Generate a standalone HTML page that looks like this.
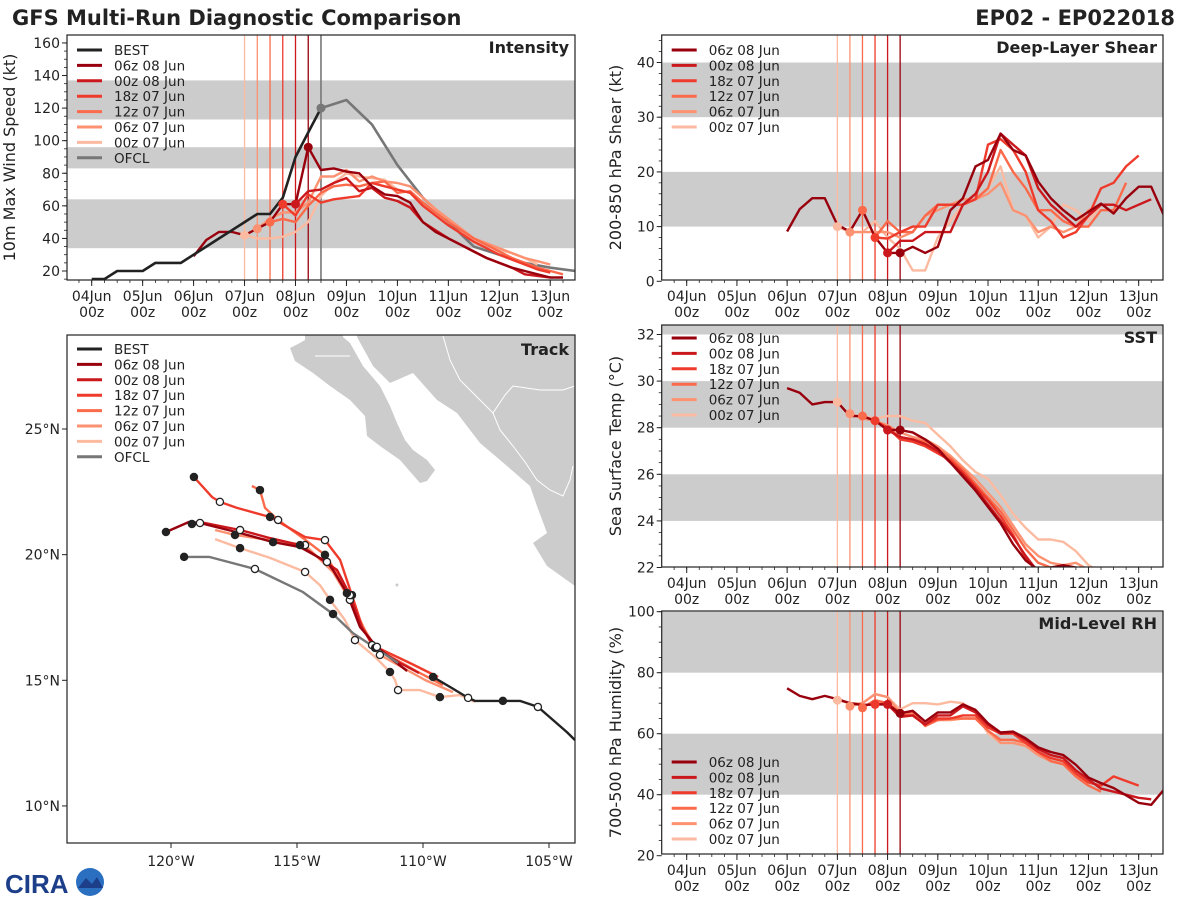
<!DOCTYPE html>
<html><head><meta charset="utf-8">
<style>
html,body{margin:0;padding:0;background:#fff;}
svg{display:block;font-family:"DejaVu Sans","Liberation Sans",sans-serif;}
</style></head>
<body>
<svg id="fig" width="1200" height="900" viewBox="0 0 1200 900" xmlns="http://www.w3.org/2000/svg">
<rect width="1200" height="900" fill="#fff"/>
<text x="12" y="25" font-size="21" font-weight="bold" fill="#222">GFS Multi-Run Diagnostic Comparison</text>
<text x="1175" y="25" font-size="21" font-weight="bold" fill="#222" text-anchor="end">EP02 - EP022018</text>
<g>
<text x="5" y="893" font-size="26" font-weight="bold" fill="#1d3f8a" font-family="Liberation Sans, sans-serif">CIRA</text>
<circle cx="90" cy="882" r="14" fill="#2a6fc0"/>
<path d="M78,888 L86,878 L92,884 L97,877 L103,888 Z" fill="#1d3f8a"/>
</g>
<g id="root"></g>
</svg>
<script>
// ---------- DATA ----------
const runLabels = ["06z 08 Jun","00z 08 Jun","18z 07 Jun","12z 07 Jun","06z 07 Jun","00z 07 Jun"];
const runInit = [8.25, 8.0, 7.75, 7.5, 7.25, 7.0];
const runStart = [6.0, 8.0, 7.75, 7.5, 7.25, 7.0];
const bestStart = 4.0;
const bestVmax = [15,15,20,20,20,25,25,25,30,35,40,45,50,55,55,65,90,105,120];
const ofclStart = 8.5;
const ofclStep = 0.5;
const ofclVmax = [120,125,110,85,65,50,35,30,25,22,20];
const runVmax = [
 [29,39,44,44,42,46,50,61,61,96,82,83,81,80,72,67,66,62,50,44,40,36,32,28,25,22,20,18,16,16],
 [61,69,70,74,77,69,71,65,63,59,50,45,40,36,32,28,25,22,18,17,16],
 [61,54,67,62,64,65,66,74,72,70,68,60,54,48,43,38,34,30,27,24,21,19],
 [50,52,50,60,68,72,73,72,74,75,68,69,62,56,50,45,40,36,32,28,25,22,20,18],
 [46,52,56,56,62,78,78,82,75,78,75,74,72,65,58,52,46,40,37,34,31,28,26,24],
 [42,40,40,41,44,50,66,74,80,78,77,76,70,68,62,57,52,45,39,36,33,31,28,24]
];
const runShear = [
 [9.1,13.2,15.2,15.2,10.3,9.1,13,8.1,5.2,5.2,6.3,5.2,6.3,13,15.2,21,22.2,27,24,23,18.2,15.2,13,11.2,12.7,14.2,12.4,15.2,17.3,17.3,12.1],
 [5.2,7.4,7.4,9,9,9,14,16,20,27,25,23,17,14,12,10,12,14,14,13,14,15],
 [8,7.8,9,10,10,14,14,14,15,25,26,24,20,13,11,8,9,12,17,18,21,23],
 [13,8,11,9,9,12,14,14,14,15,17,24,20,17,13,13,11,10,10,13,13,18],
 [9,9,9,9,8,9,12,13,14,15,15,16,18,13,12,9,10,9,10,13,14,14],
 [10,9,9,11,8,6,2,2,8,11,14,15,17,21,13,12,8,10,14,13,11,14]
];
const runSST = [
 [29.7,29.5,29.0,29.1,29.1,28.5,28.5,28.3,27.9,27.9,27.8,27.5,27.1,26.5,25.9,25.3,24.6,23.9,23.0,22.3,21.9,22.0,22.1,22.0,21.8],
 [27.9,27.6,27.5,27.3,27.0,26.5,26.0,25.4,24.7,24.0,23.3,22.5,21.8,21.5],
 [28.3,28.0,27.5,27.4,27.2,26.9,26.6,26.1,25.5,24.9,24.2,23.4,22.4,21.8],
 [28.5,28.3,28.0,27.6,27.5,27.4,27.1,26.7,26.2,25.6,25.0,24.4,23.6,22.8,22.2,22.0,22.0,21.8],
 [28.6,28.4,28.3,28.1,27.8,27.6,27.5,27.2,26.8,26.3,25.8,25.2,24.6,23.8,23.0,22.5,22.2,22.1,22.2,21.9],
 [29.1,28.5,28.5,28.4,28.5,28.5,28.3,28.2,27.7,27.2,26.6,26.1,25.8,25.1,24.3,23.7,23.2,23.2,23.1,22.7,22.1,21.8]
];
const runRH = [
 [74.9,72.4,71.3,72.4,71.3,70,69.4,69.6,69.6,66.7,67.5,64,67,67,69.6,67.8,63.4,60.4,60.7,58.5,55.5,54,53,49.8,45.6,43.8,42.2,39.8,37.3,36.7,41.6],
 [69.6,65.5,66,63,66,66,69,67,63,60,60.5,58,55,53,52,48,45,42,41,40,39,38.5],
 [69.6,70,66,66,63,65,65,66,66,62,60,60,57,54,52,51,47,44,43,46,44.5,43],
 [68.5,71,70,67,67,62.5,64.5,65,65,65,61,58,58,57,54,51,50,46,43,41],
 [69,70,73,72,67,66,63,64.5,64.5,65,65,61,57,57,56,53,51,50,46,43],
 [71,70,70,73,72,68,70,70,69.6,70.5,70,67,60,57,57,56.5,54,51,50,46,43]
];
// track data (lon, lat)
const bestLon = [-103.97,-104.29,-105.44,-106.15,-106.83,-107.94,-108.21,-108.85,-109.60];
const bestLat = [12.62,12.94,13.94,14.18,14.18,14.18,14.30,14.69,15.13];
const ofclLon = [-110.99,-112.78,-113.57,-114.76,-116.67,-118.49,-119.48];
const ofclLat = [15.69,16.88,17.64,18.51,19.43,19.91,19.91];
const runLon = [
 [-110.63,-111.19,-111.83,-112.50,-113.02,-113.57,-113.81,-114.88,-115.95,-117.26,-118.85,-119.29,-120.20],
 [-110.16,-110.91,-111.90,-112.42,-112.90,-113.41,-114.88,-116.07,-117.26,-118.65,-119.17],
 [-109.40,-110.52,-112.02,-112.42,-112.82,-113.29,-113.89,-114.68,-116.07,-117.38,-118.06,-118.37,-119.09],
 [-109.21,-110.20,-111.90,-112.38,-112.90,-113.37,-113.89,-114.76,-115.75,-116.27,-116.47,-116.79],
 [-108.81,-109.92,-111.71,-112.30,-112.90,-113.57,-114.68,-116.07,-117.46,-118.25],
 [-107.94,-108.53,-109.33,-110.12,-110.99,-111.11,-111.31,-111.90,-112.70,-113.10,-113.69,-114.09,-114.68,-116.07,-117.26,-118.25]
];
const runLat = [
 [15.37,15.81,16.33,17.12,18.47,19.39,19.71,20.30,20.50,20.86,21.26,21.30,20.90],
 [15.29,15.69,16.29,17.08,18.39,19.39,20.38,20.66,20.98,21.26,21.22],
 [15.13,15.69,16.40,17.16,18.39,19.79,20.58,20.70,21.50,21.86,22.10,22.29,23.09],
 [14.81,15.33,16.29,17.08,18.20,19.19,19.99,20.66,21.38,21.86,22.57,22.73],
 [14.53,15.01,16.01,17.00,18.20,19.31,20.38,20.58,20.78,20.98],
 [14.14,14.41,14.33,14.61,14.61,15.01,15.33,15.93,16.60,17.40,18.20,18.79,19.31,19.87,20.26,20.62]
];
const dayTicks = ["04Jun","05Jun","06Jun","07Jun","08Jun","09Jun","10Jun","11Jun","12Jun","13Jun"];
const lonTicks = [-120,-115,-110,-105];
const latTicks = [25,20,15,10];

// ---------- STYLE / GEOMETRY ----------
const colors = ["#99000d","#cb181d","#ef3b2c","#fb6a4a","#fc9272","#fcbba1"];
const NS = "http://www.w3.org/2000/svg";
const root = document.getElementById("root");
function mk(tag, attrs, parent){ const e=document.createElementNS(NS,tag); for(const k in attrs) e.setAttribute(k,attrs[k]); (parent||root).appendChild(e); return e; }
function txt(x,y,s,size,anchor,parent,extra){ const t=mk("text",Object.assign({x:x,y:y,"font-size":size,"text-anchor":anchor||"start",fill:"#222"},extra||{}),parent); t.textContent=s; return t; }

function makePanel(p){
  const g = mk("g",{});
  
  
  const cid = "clip-"+p.name;
  const cp = mk("clipPath",{id:cid},g); mk("rect",{x:p.x0,y:p.y0,width:p.x1-p.x0,height:p.y1-p.y0},cp);
  const X = d => p.xa + (d-4)*p.xs;
  const Y = v => p.ya + (p.va - v)*p.ys;
  const inner = mk("g",{"clip-path":"url(#"+cid+")"},g);
  p.bands.forEach(b=>{
    const r = mk("rect",{x:p.x0,y:Y(b[1]),width:p.x1-p.x0,height:Y(b[0])-Y(b[1]),fill:"#cccccc"},inner);
    
    
  });
  for(let i=5;i>=0;i--){
    const l = mk("line",{x1:X(runInit[i]),x2:X(runInit[i]),y1:p.y0,y2:p.y1,stroke:colors[i],"stroke-width":1.3},inner);
    
    
  }
  if(p.ofcl){
    const l = mk("line",{x1:X(ofclStart),x2:X(ofclStart),y1:p.y0,y2:p.y1,stroke:"#777","stroke-width":1.6},inner);
    
    
  }
  const series = (vals,start,step,color,w,name)=>{
    const pts = vals.map((v,k)=>X(start+k*step).toFixed(1)+","+Y(v).toFixed(1)).join(" ");
    const pl = mk("polyline",{points:pts,fill:"none",stroke:color,"stroke-width":w,"stroke-linejoin":"round"},inner);
    
    
  };
  if(p.best){ series(ofclVmax,ofclStart,ofclStep,"#777",2.6,"ofcl-line"); }
  for(let i=5;i>=0;i--) series(p.data[i],runStart[i],0.25,colors[i],2.4,"run-line-"+i);
  if(p.best){ series(bestVmax,bestStart,0.25,"#222",2.6,"best-line"); }
  for(let i=5;i>=0;i--){
    const k = Math.round((runInit[i]-runStart[i])/0.25);
    const c = mk("circle",{cx:X(runInit[i]),cy:Y(p.data[i][k]),r:4.5,fill:colors[i]},inner);
    
    
  }
  if(p.best){
    const c = mk("circle",{cx:X(ofclStart),cy:Y(ofclVmax[0]),r:4.5,fill:"#777"},inner);
    
    
  }
  mk("rect",{x:p.x0,y:p.y0,width:p.x1-p.x0,height:p.y1-p.y0,fill:"none",stroke:"#222","stroke-width":1.2},g);
  p.yticks.forEach(v=>{
    mk("line",{x1:p.x0-5,x2:p.x0,y1:Y(v),y2:Y(v),stroke:"#222","stroke-width":1},g);
    const t = txt(p.x0-7,Y(v)+5,String(v),14,"end",g);
    
    
  });
  for(let v=p.vmin; v<=p.vmax+1e-6; v+=p.minor){ const yy=Y(v); if(yy>=p.y0&&yy<=p.y1) mk("line",{x1:p.x0-3,x2:p.x0,y1:yy,y2:yy,stroke:"#222","stroke-width":0.8},g); }
  for(let d=3.5; d<=13.6; d+=0.25){ const xx=X(d); if(xx>=p.x0&&xx<=p.x1) mk("line",{x1:xx,x2:xx,y1:p.y1,y2:p.y1+3,stroke:"#222","stroke-width":0.8},g); }
  dayTicks.forEach((s,k)=>{
    const xx = X(4+k);
    mk("line",{x1:xx,x2:xx,y1:p.y1,y2:p.y1+6,stroke:"#222","stroke-width":1},g);
    const t1 = txt(xx,p.y1+21,s,14,"middle",g);
    
    
    const t2 = txt(xx,p.y1+37,"00z",14,"middle",g);
    
    
  });
  const yt = txt(0,0,p.ytitle,16,"middle",g,{transform:"translate("+p.ytx+","+((p.y0+p.y1)/2)+") rotate(-90)"});
  
  
  const pt = txt(p.x1-6,p.y0+18,p.title,16,"end",g,{"font-weight":"bold"});
  
  
  legend(g,p.x0+10,p.legY,p.best);
}

function legend(g,x,y,withBest){
  const items=[]; if(withBest) items.push(["BEST","#222"]);
  runLabels.forEach((s,i)=>items.push([s,colors[i]])); if(withBest) items.push(["OFCL","#777"]);
  const lg = mk("g",{},g);
  
  
  items.forEach((it,k)=>{
    const yy = y + k*15.4;
    const e = mk("g",{},lg);
    
    
    mk("line",{x1:x,x2:x+25,y1:yy,y2:yy,stroke:it[1],"stroke-width":3},e);
    txt(x+37,yy+5,it[0],13.5,"start",e);
  });
}

makePanel({name:"intensity-panel",x0:67,x1:575,y0:35,y1:280,xa:91.7,xs:50.95,ya:271,va:20,ys:1.629,vmin:15,vmax:165,minor:5,
  bands:[[34,64],[83,96],[113,137]],yticks:[20,40,60,80,100,120,140,160],data:runVmax,best:true,ofcl:true,
  ytitle:"10m Max Wind Speed (kt)",ytx:15,title:"Intensity",legY:50});
makePanel({name:"shear-panel",x0:661.7,x1:1163,y0:35,y1:280,xa:686.7,xs:50.22,ya:281.3,va:0,ys:5.47,vmin:0,vmax:45,minor:2,
  bands:[[10,20],[30,40]],yticks:[0,10,20,30,40],data:runShear,
  ytitle:"200-850 hPa Shear (kt)",ytx:621,title:"Deep-Layer Shear",legY:50});
makePanel({name:"sst-panel",x0:661.7,x1:1163,y0:325,y1:567,xa:686.7,xs:50.22,ya:334.5,va:32,ys:23.3,vmin:22,vmax:32.5,minor:0.5,
  bands:[[24,26],[28,30],[32,34]],yticks:[22,24,26,28,30,32],data:runSST,
  ytitle:"Sea Surface Temp (°C)",ytx:621,title:"SST",legY:338});
makePanel({name:"rh-panel",x0:661.7,x1:1163,y0:611,y1:854,xa:686.7,xs:50.22,ya:672.7,va:80,ys:3.05,vmin:20,vmax:100,minor:5,
  bands:[[40,60],[80,100]],yticks:[20,40,60,80,100],data:runRH,
  ytitle:"700-500 hPa Humidity (%)",ytx:621,title:"Mid-Level RH",legY:762});

// ---------- TRACK ----------
(function(){
  const x0=67,x1=575,y0=335,y1=843;
  const LX = lon => 171 + (lon+120)*25.2;
  const LY = lat => 429 + (25-lat)*25.13;
  const g = mk("g",{});
  
  
  const cp = mk("clipPath",{id:"clip-track"},g); mk("rect",{x:x0,y:y0,width:x1-x0,height:y1-y0},cp);
  const inner = mk("g",{"clip-path":"url(#clip-track)"},g);
  const land = mk("g",{},inner);
  
  
  // mainland Mexico
  mk("path",{d:"M357,330 L357,337 L373,366 L390,383 L413,373 L437,400 L457,413 L480,443 L507,466 L530,486 L537,506 L547,533 L533,543 L547,566 L575,586 L580,586 L580,330 Z",fill:"#cccccc"},land);
  // Baja California
  mk("path",{d:"M305,330 L343,330 L343,337 L350,343 L363,366 L380,386 L390,406 L397,423 L405,440 L413,450 L427,460 L435,470 L427,481 L420,483 L400,460 L380,446 L367,436 L365,416 L350,400 L330,386 L313,373 L295,361 L290,348 L298,344 L305,340 Z",fill:"#cccccc"},land);
  mk("path",{d:"M315,356 L350,356 M443,336 L450,360 L460,380 L475,395 L493,413 L500,430 L513,446 L525,462 L537,480 L550,490 L563,496 L570,480 L573,466 M493,413 L505,395 L513,386 L540,390 L563,390 L575,386",fill:"none",stroke:"#fff","stroke-width":1},land);
  mk("circle",{cx:397,cy:585,r:1.5,fill:"#ccc"},land);
  const line=(lons,lats,color,w,name)=>{
    const pts = lons.map((v,k)=>LX(v).toFixed(1)+","+LY(lats[k]).toFixed(1)).join(" ");
    const pl = mk("polyline",{points:pts,fill:"none",stroke:color,"stroke-width":w,"stroke-linejoin":"round"},inner);
    
    
  };
  const marks=(lons,lats,off)=>{
    lons.forEach((v,k)=>{ if(k===0||k%2) return;
      const filled = ((k/2)+off)%2===0;
      const c = mk("circle",{cx:LX(v),cy:LY(lats[k]),r:3.6,fill:filled?"#222":"#fff",stroke:"#222","stroke-width":1.3},inner);
      
      
    });
  };
  for(let i=5;i>=0;i--) line(runLon[i],runLat[i],colors[i],2.4,"run-track-"+i);
  line(ofclLon,ofclLat,"#777",2.4,"ofcl-track");
  line(bestLon,bestLat,"#222",2.4,"best-track");
  for(let i=5;i>=0;i--) marks(runLon[i],runLat[i],i%2);
  marks(ofclLon,ofclLat,1); marks(bestLon,bestLat,0);
  mk("rect",{x:x0,y:y0,width:x1-x0,height:y1-y0,fill:"none",stroke:"#222","stroke-width":1.2},g);
  lonTicks.forEach(v=>{
    mk("line",{x1:LX(v),x2:LX(v),y1:y1,y2:y1+5,stroke:"#222"},g);
    const t = txt(LX(v),y1+23,(-v)+"°W",14,"middle",g);
    
    
  });
  latTicks.forEach(v=>{
    mk("line",{x1:x0-5,x2:x0,y1:LY(v),y2:LY(v),stroke:"#222"},g);
    const t = txt(x0-7,LY(v)+5,v+"°N",14,"end",g);
    
    
  });
  const pt = txt(x1-6,y0+20,"Track",16,"end",g,{"font-weight":"bold"});
  
  
  legend(g,x0+10,349,true);
})();
</script>
</body></html>
